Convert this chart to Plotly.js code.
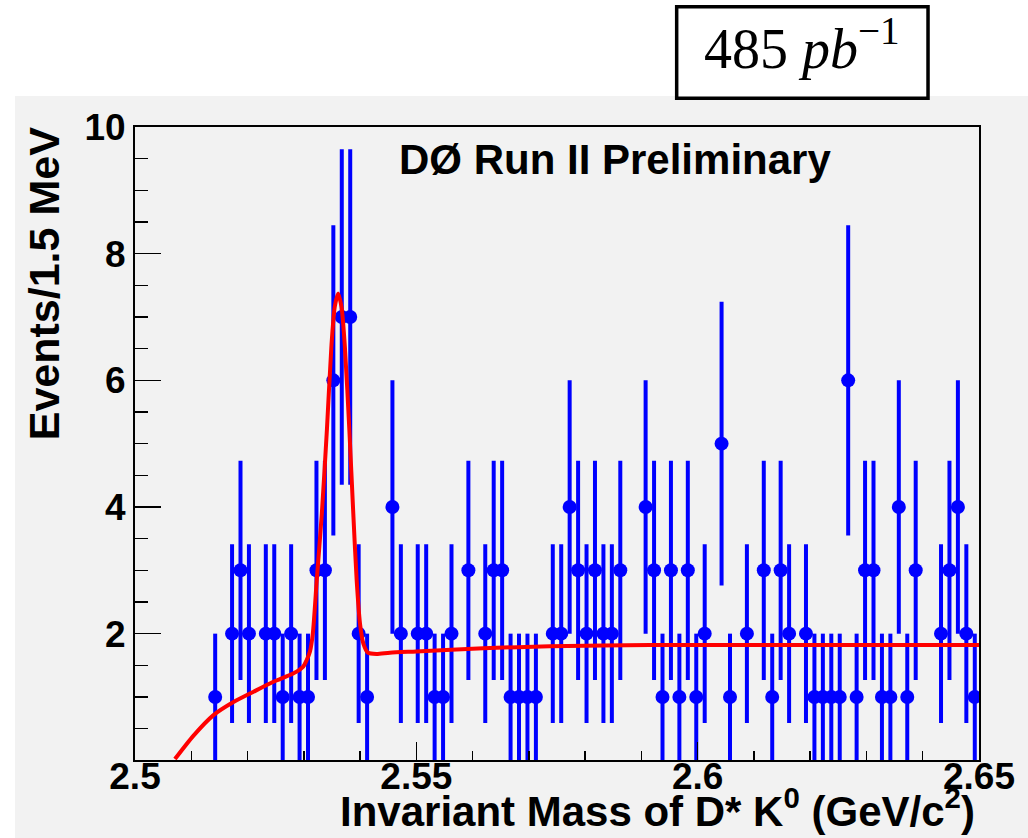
<!DOCTYPE html>
<html>
<head>
<meta charset="utf-8">
<script src="https://cdn.plot.ly/plotly-3.0.1.min.js"></script>
<style>html,body{margin:0;padding:0;background:#fff;}#chart{width:1028px;height:838px;}</style>
</head>
<body>
<div id="chart"></div>
<script>
// Bin centres (GeV/c^2), 1.5 MeV bins; empty bins are not drawn
const mass = [2.51425,2.51725,2.51875,2.52025,2.52325,2.52475,2.52625,2.52775,2.52925,2.53075,
 2.53225,2.53375,2.53525,2.53675,2.53825,2.53975,2.54125,
 2.54575,2.54725,2.55025,2.55175,2.55325,2.55475,2.55625,2.55925,
 2.56225,2.56375,2.56525,2.56675,2.56825,2.56975,2.57125,
 2.57425,2.57575,2.57725,2.57875,2.58025,2.58175,2.58325,2.58475,2.58625,
 2.59075,2.59225,2.59375,2.59525,2.59675,2.59825,2.59975,2.60125,
 2.60425,2.60575,2.60875,2.61175,2.61325,2.61475,2.61625,
 2.61925,2.62075,2.62225,2.62375,2.62525,2.62675,2.62825,2.62975,2.63125,2.63275,2.63425,2.63575,2.63725,2.63875,
 2.64325,2.64475,2.64625,2.64775,2.64925];

const counts = [1,2,3,2,2,2,1,2,1,1,
 3,3,6,7,7,2,1,
 4,2,2,2,1,1,2,3,
 2,3,3,1,1,1,1,
 2,2,4,3,2,3,2,2,3,
 4,3,1,3,1,3,1,2,
 5,1,2,3,1,3,2,
 2,1,1,1,1,6,1,3,3,1,1,4,1,3,
 2,3,4,2,1];

const errors = [1,1.41,1.73,1.41,1.41,1.41,1,1.41,1,1,
 1.73,1.73,2.45,2.65,2.65,1.41,1,
 2,1.41,1.41,1.41,1,1,1.41,1.73,
 1.41,1.73,1.73,1,1,1,1,
 1.41,1.41,2,1.73,1.41,1.73,1.41,1.41,1.73,
 2,1.73,1,1.73,1,1.73,1,1.41,
 2.24,1,1.41,1.73,1,1.73,1.41,
 1.41,1,1,1,1,2.45,1,1.73,1.73,1,1,2,1,1.73,
 1.41,1.73,2,1.41,1];

// Fit curve, points
const fitX = [2.5071,2.5104,2.5139,2.5175,2.5210,2.5246,2.5281,2.5299,2.5305,2.5311,2.5316,2.5323,2.5332,2.5341,2.5349,2.5355,2.5361,2.5367,2.5373,2.5381,2.5388,2.5394,2.5400,2.5406,2.5414,2.5429,2.5453,2.5500,2.5619,2.5737,2.5915,2.6200,2.6500];
const fitY = [0.02,0.39,0.71,0.92,1.08,1.24,1.37,1.48,1.58,1.72,2.0,2.84,3.89,5.21,6.53,7.16,7.37,7.16,6.53,5.21,3.89,2.84,2.15,1.84,1.70,1.68,1.70,1.72,1.77,1.80,1.82,1.82,1.82];

const xTickVals = [2.5, 2.55, 2.6, 2.65];
const yTickVals = [2, 4, 6, 8, 10];

const BOLD = {family: 'Liberation Sans, Arial, sans-serif', weight: 700, color: '#000'};

const traces = [
  {
    x: mass, y: counts, type: 'scatter', mode: 'markers',
    marker: {color: '#0000ff', size: 14, symbol: 'circle'},
    error_y: {type: 'data', array: errors, visible: true, color: '#0000ff', thickness: 4, width: 0},
    hoverinfo: 'x+y', showlegend: false
  },
  {
    x: fitX, y: fitY, type: 'scatter', mode: 'lines',
    line: {color: '#ff0000', width: 4, shape: 'spline', smoothing: 0.7},
    hoverinfo: 'skip', showlegend: false
  }
];

const layout = {
  width: 1028, height: 838,
  margin: {l: 135, r: 49, t: 127, b: 78, pad: 0},
  paper_bgcolor: '#ffffff',
  plot_bgcolor: '#ffffff',
  showlegend: false,
  xaxis: {
    range: [2.5, 2.65],
    tickmode: 'array', tickvals: xTickVals, ticktext: xTickVals.map(String),
    ticks: 'inside', ticklen: 18, tickwidth: 1.5, tickcolor: '#000',
    ticklabelstandoff: -17,
    minor: {dtick: 0.01, tick0: 2.5, ticks: 'inside', ticklen: 9, tickwidth: 1.5, tickcolor: '#000'},
    showline: true, linecolor: '#000', linewidth: 2, mirror: true,
    showgrid: false, zeroline: false,
    tickfont: Object.assign({size: 37}, BOLD)
  },
  yaxis: {
    range: [0.005, 10],
    tickmode: 'array', tickvals: yTickVals, ticktext: yTickVals.map(String),
    ticks: 'inside', ticklen: 26, tickwidth: 1.5, tickcolor: '#000',
    minor: {dtick: 0.5, tick0: 0, ticks: 'inside', ticklen: 13, tickwidth: 1.5, tickcolor: '#000'},
    showline: true, linecolor: '#000', linewidth: 2, mirror: true,
    showgrid: false, zeroline: false,
    tickfont: Object.assign({size: 37}, BOLD)
  },
  shapes: [
    {type: 'rect', xref: 'paper', yref: 'paper', layer: 'below',
     x0: -0.1422, x1: 1.06, y0: -0.125, y1: 1.049,
     fillcolor: '#f2f2f2', line: {width: 0}},
    {type: 'rect', xref: 'paper', yref: 'paper', layer: 'above',
     x0: 0.6418, x1: 0.9396, y0: 1.0453, y1: 1.190,
     fillcolor: '#ffffff', line: {color: '#000', width: 3.5}}
  ],
  annotations: [
    {text: '485 <i>pb</i><sup>−1</sup>', xref: 'paper', yref: 'paper',
     x: 0.7907, y: 1.130, xanchor: 'center', yanchor: 'middle', showarrow: false,
     font: {family: 'Liberation Serif, DejaVu Serif, serif', size: 56, color: '#000'}},
    {text: 'DØ Run II Preliminary', xref: 'paper', yref: 'paper',
     x: 0.5687, y: 0.948, xanchor: 'center', yanchor: 'middle', showarrow: false,
     font: Object.assign({size: 42}, BOLD)},
    {text: 'Events/1.5 MeV', xref: 'paper', yref: 'paper', textangle: -90,
     x: -0.1078, y: 1.002, xanchor: 'center', yanchor: 'top', showarrow: false,
     font: Object.assign({size: 43}, BOLD)},
    {text: 'Invariant Mass of D* K<sup>0</sup> (GeV/c<sup>2</sup>)', xref: 'paper', yref: 'paper',
     x: 0.9976, y: -0.076, xanchor: 'right', yanchor: 'middle', showarrow: false,
     font: Object.assign({size: 42}, BOLD)}
  ]
};

Plotly.newPlot('chart', traces, layout, {displayModeBar: false, staticPlot: true});
</script>
</body>
</html>
